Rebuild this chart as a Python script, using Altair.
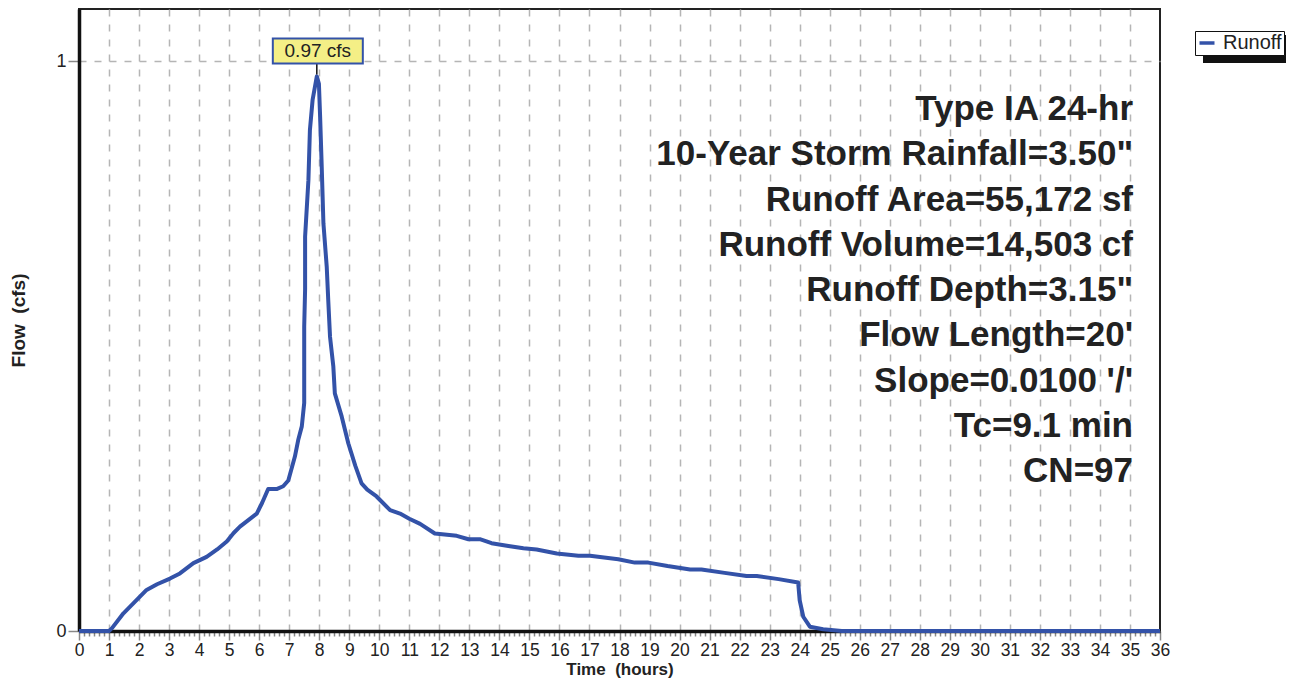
import altair as alt
import pandas as pd

# ---------------- data ----------------
time_h = [0, 1.0, 1.1, 1.48, 1.8, 2.25, 2.6, 3.03, 3.36, 3.81, 4.25, 4.6, 4.92, 5.15,
          5.36, 5.65, 5.92, 6.1, 6.30, 6.58, 6.8, 6.97, 7.19, 7.3, 7.42, 7.50, 7.50,
          7.53, 7.53, 7.64, 7.69, 7.78, 7.92, 7.99, 8.03, 8.08, 8.14, 8.25, 8.30, 8.36,
          8.47, 8.52, 8.75, 8.97, 9.2, 9.41, 9.6, 9.91, 10.36, 10.69, 11.0, 11.36,
          11.85, 12.58, 12.97, 13.35, 13.74, 14.3, 14.80, 15.24, 15.91, 16.63, 17.02,
          17.35, 17.96, 18.51, 18.96, 19.6, 20.35, 20.73, 21.5, 22.23, 22.57, 23.3,
          23.95, 24.0, 24.12, 24.34, 24.78, 25.4, 36]
flow_cfs = [0, 0, 0.005, 0.031, 0.048, 0.072, 0.082, 0.092, 0.101, 0.119, 0.130, 0.143,
            0.157, 0.172, 0.183, 0.195, 0.206, 0.225, 0.249, 0.249, 0.254, 0.264, 0.306,
            0.335, 0.359, 0.40, 0.534, 0.60, 0.692, 0.791, 0.879, 0.932, 0.973, 0.96,
            0.902, 0.82, 0.715, 0.639, 0.581, 0.516, 0.464, 0.417, 0.376, 0.329, 0.29,
            0.259, 0.248, 0.236, 0.212, 0.206, 0.197, 0.188, 0.171, 0.167, 0.161, 0.161,
            0.154, 0.149, 0.145, 0.143, 0.136, 0.132, 0.132, 0.130, 0.126, 0.120, 0.120,
            0.114, 0.108, 0.108, 0.102, 0.0965, 0.0965, 0.091, 0.085, 0.054, 0.025,
            0.0075, 0.003, 0, 0]
series_name = "Runoff"
info_lines = ["Type IA 24-hr", '10-Year Storm Rainfall=3.50"', "Runoff Area=55,172 sf",
              "Runoff Volume=14,503 cf", 'Runoff Depth=3.15"', "Flow Length=20'",
              "Slope=0.0100 '/'", "Tc=9.1 min", "CN=97"]
x_ticks = [i / 6 for i in range(0, 36 * 6 + 1)]
y_ticks = [0, 1]
x_title = "Time\u00a0 (hours)"
y_title = "Flow\u00a0 (cfs)"

# ---------------- styling ----------------
FONT = "Liberation Sans"
BLUE = "#3352a8"
INK = "#222222"
W, H = 1081, 622

df = pd.DataFrame({"t": time_h, "q": flow_cfs, "series": series_name})
ipk = df["q"].idxmax()
peak = pd.DataFrame({"t": [df["t"][ipk]], "q": [df["q"][ipk]],
                     "label": [f"{df['q'][ipk]:.2f} cfs"]})

x_scale = alt.Scale(domain=[0, 36], nice=False, zero=False)
y_scale = alt.Scale(domain=[0, 622 / 570], nice=False)

is_major = "datum.value % 1 === 0"

x_axis = alt.Axis(
    values=x_ticks,
    labelExpr=f"{is_major} ? format(datum.value, 'd') : ''",
    labelOverlap=False, labelFlush=False,
    labelFontSize=17.5, labelColor=INK, labelFont=FONT, labelPadding=1,
    tickColor="#888888", tickWidth=1.5,
    tickSize={"condition": {"test": is_major, "value": 9}, "value": 5},
    grid=True, gridColor="#b5b5b5", gridDash=[7, 8], gridWidth=1.5,
    gridOpacity={"condition": {"test": is_major + " && datum.value > 0 && datum.value < 36",
                               "value": 1}, "value": 0},
    domainColor="#111111", domainWidth=3.5,
    title=x_title, titleFont=FONT, titleFontSize=17, titleFontWeight="bold",
    titleColor=INK, titleBaseline="middle", titleY=38,
)
y_axis = alt.Axis(
    values=y_ticks, format="d",
    labelFontSize=18, labelColor=INK, labelFont=FONT, labelPadding=2,
    tickColor="#888888", tickWidth=1.5, tickSize=11,
    grid=True, gridColor="#b5b5b5", gridDash=[7, 8], gridWidth=1.5,
    domainColor="#111111", domainWidth=3.5,
    title=y_title, titleFont=FONT, titleFontSize=19, titleFontWeight="bold",
    titleColor=INK, titleAngle=-90, titleBaseline="middle", titleAlign="center",
    titleX=-61, titleY=H / 2,
)

X = alt.X("t:Q", scale=x_scale, axis=x_axis)
Y = alt.Y("q:Q", scale=y_scale, axis=y_axis)

line = alt.Chart(df).mark_line(strokeWidth=4, strokeJoin="round").encode(
    x=X, y=Y,
    color=alt.Color(
        "series:N",
        scale=alt.Scale(domain=[series_name], range=[BLUE]),
        legend=alt.Legend(
            orient="none", legendX=1116, legendY=22, title=None,
            strokeColor="#111111", fillColor="white", padding=2,
            symbolType="stroke", symbolStrokeWidth=3.5, symbolSize=225,
            labelFontSize=20, labelFont=FONT, labelColor=INK, labelOffset=6,
        ),
    ),
    order=alt.Order("t:Q"),
)

# legend drop shadow (decoration)
shadow = alt.Chart(pd.DataFrame({"k": [0]})).mark_rect(color="#111111").encode(
    x=alt.value(1124), x2=alt.value(1220), y=alt.value(26), y2=alt.value(54),
)

box = alt.Chart(peak).mark_rect(
    fill="#f4ef86", stroke=BLUE, strokeWidth=2,
    xOffset=-44, x2Offset=46, yOffset=-38, y2Offset=-13,
).encode(x=X, x2="t:Q", y=Y, y2="q:Q")

stem = alt.Chart(peak).mark_rule(color="#111111", strokeWidth=1.5,
                                 yOffset=-2, y2Offset=-13).encode(
    x=X, y=Y, y2="q:Q")

peak_text = alt.Chart(peak).mark_text(
    font=FONT, fontSize=19, color=INK, dy=-25, dx=1, baseline="middle"
).encode(x=X, y=Y, text="label:N")

info = alt.Chart(pd.DataFrame({"k": [0]})).mark_text(
    align="right", baseline="alphabetic", font=FONT, fontSize=35,
    fontWeight="bold", color=INK, lineHeight=45.25,
).encode(x=alt.value(1054), y=alt.value(111), text=alt.value(info_lines))

chart = alt.layer(shadow, line, stem, box, peak_text, info).properties(
    width=W, height=H,
    autosize=alt.AutoSizeParams(type="none"),
    padding={"left": 71, "top": 1, "right": 126, "bottom": 47},
    background="white",
).configure_view(stroke=INK, strokeWidth=2)

chart.save("out.html", embed_options={"renderer": "svg", "actions": False})
